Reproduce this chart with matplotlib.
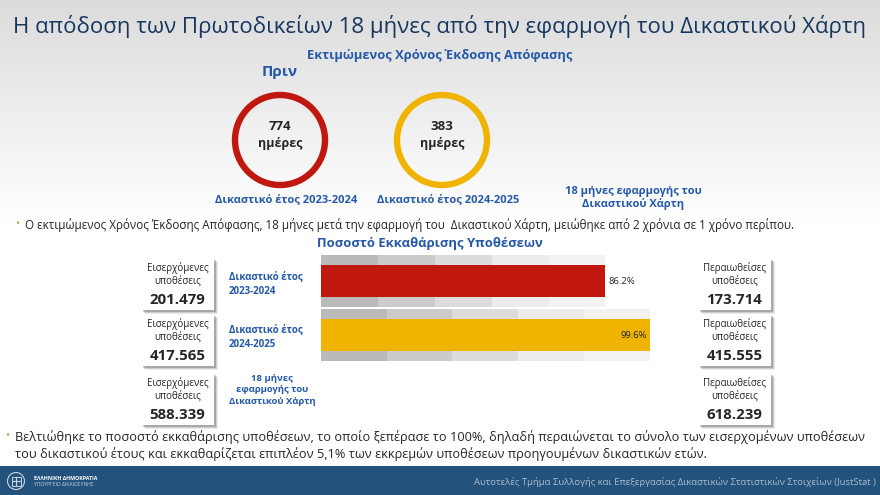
import numpy as np
import matplotlib.pyplot as plt
from matplotlib.patches import Circle, Rectangle
from matplotlib.colors import LinearSegmentedColormap

# --- data ---
years = ['Δικαστικό έτος 2023-2024', 'Δικαστικό έτος 2024-2025']
days = [774, 383]
ring_colors = ['#c0180f', '#f0b400']

bar_labels = ['Δικαστικό έτος\n2023-2024', 'Δικαστικό έτος\n2024-2025',
              '18 μήνες\nεφαρμογής του\nΔικαστικού Χάρτη']
clearance = [86.2, 99.6]
incoming = ['201.479', '417.565', '588.339']
resolved = ['173.714', '415.555', '618.239']

title = 'Η απόδοση των Πρωτοδικείων 18 μήνες από την εφαρμογή του Δικαστικού Χάρτη'
note1 = ('Ο εκτιμώμενος Χρόνος Έκδοσης Απόφασης, 18 μήνες μετά την εφαρμογή του  '
         'Δικαστικού Χάρτη, μειώθηκε από 2 χρόνια σε 1 χρόνο περίπου.')
note2 = ('Βελτιώθηκε το ποσοστό εκκαθάρισης υποθέσεων, το οποίο ξεπέρασε το 100%, '
         'δηλαδή περαιώνεται το σύνολο των εισερχομένων υποθέσεων')
note3 = ('του δικαστικού έτους και εκκαθαρίζεται επιπλέον 5,1% των εκκρεμών '
         'υποθέσεων προηγουμένων δικαστικών ετών.')
footer = 'Αυτοτελές Τμήμα Συλλογής και Επεξεργασίας Δικαστικών Στατιστικών Στοιχείων (JustStat )'

plt.rcParams['font.family'] = ['Open Sans', 'DejaVu Sans']

NAVY = '#17375e'
BLUE = '#2559a7'
DARK = '#262626'

fig = plt.figure(figsize=(8.8, 4.95), dpi=100)
bg = fig.add_axes([0, 0, 1, 1])
bg.set_xlim(0, 880)
bg.set_ylim(495, 0)
bg.axis('off')

# background gradient
grad = np.clip(np.linspace(0, 1, 495) / 0.45, 0, 1)[:, None]
bg.imshow(grad, extent=[0, 880, 495, 0], aspect='auto', zorder=0,
          cmap=LinearSegmentedColormap.from_list('g', ['#dcdcdc', '#ffffff']))

# title
bg.text(440, 27, title, ha='center', va='center', fontsize=16, color=NAVY)
bg.text(440, 55, 'Εκτιμώμενος Χρόνος Έκδοσης Απόφασης', ha='center', va='center',
        fontsize=9.3, color=BLUE, fontweight='bold')
bg.text(280, 72, 'Πριν', ha='center', va='center', fontsize=11, color=BLUE,
        fontweight='bold')

# rings
ring_x = [280, 442]
for cx, d, c, yr in zip(ring_x, days, ring_colors, years):
    bg.add_patch(Circle((cx, 140), 45, fill=False, ec=c, lw=4.6, zorder=3))
    bg.text(cx, 126, str(d), ha='center', va='center', fontsize=9.5,
            fontweight='bold', color=DARK)
    bg.text(cx, 144, 'ημέρες', ha='center', va='center', fontsize=9,
            fontweight='bold', color=DARK)
    bg.text(cx + 6, 200, yr, ha='center', va='center', fontsize=8,
            fontweight='bold', color=BLUE)
bg.text(633, 198, '18 μήνες εφαρμογής του\nΔικαστικού Χάρτη', ha='center',
        va='center', fontsize=8, fontweight='bold', color=BLUE, linespacing=1.2)

# bullet notes
bg.text(17, 225, '•', ha='center', va='center', fontsize=8, color='#c9a06a')
bg.text(25, 225, note1, ha='left', va='center', fontsize=8.4, color=DARK)
bg.text(7, 437, '•', ha='center', va='center', fontsize=8, color='#c9a06a')
bg.text(15, 437, note2, ha='left', va='center', fontsize=9.2, color=DARK)
bg.text(15, 454, note3, ha='left', va='center', fontsize=9.2, color=DARK)

bg.text(430, 244, 'Ποσοστό Εκκαθάρισης Υποθέσεων', ha='center', va='center',
        fontsize=9.4, fontweight='bold', color=BLUE)


def box(x0, y0, w, h, head, num):
    for k, a in zip([4, 3, 2], [0.08, 0.12, 0.18]):
        bg.add_patch(Rectangle((x0 + k, y0 + k), w, h, fc='#000000', alpha=a,
                               lw=0, zorder=2))
    bg.add_patch(Rectangle((x0, y0), w, h, fc='white', lw=0, zorder=3))
    bg.text(x0 + w / 2, y0 + 10, head, ha='center', va='center', fontsize=7,
            color=DARK, zorder=4)
    bg.text(x0 + w / 2, y0 + 23, 'υποθέσεις', ha='center', va='center',
            fontsize=7, color=DARK, zorder=4)
    bg.text(x0 + w / 2, y0 + 42, num, ha='center', va='center', fontsize=10.8,
            fontweight='bold', color=DARK, zorder=4)


box_y = [258, 314, 373]
for y0, n in zip(box_y, incoming):
    box(141, y0, 73, 52, 'Εισερχόμενες', n)
for y0, n in zip(box_y, resolved):
    box(698, y0, 73, 52, 'Περαιωθείσες', n)

bg.text(229, 284, bar_labels[0], ha='left', va='center', fontsize=7,
        fontweight='bold', color=BLUE, linespacing=1.45)
bg.text(229, 337, bar_labels[1], ha='left', va='center', fontsize=7,
        fontweight='bold', color=BLUE, linespacing=1.45)
bg.text(272, 390, bar_labels[2], ha='center', va='center', fontsize=6.8,
        fontweight='bold', color=BLUE, linespacing=1.3)

# clearance rate bars
ax = fig.add_axes([321 / 880, 1 - 362 / 495, 330 / 880, 108 / 495])
ax.set_xlim(0, 100)
ax.set_ylim(1.5, -0.5)
ax.axis('off')
shades = ['#bababa', '#cbcbcb', '#dcdcdc', '#ececec', '#f2f2f2']
ypos = np.arange(len(clearance))
for i, v in enumerate(clearance):
    left = 0
    for s in shades:
        ax.barh(i, v / 5, left=left, height=0.98, color=s, lw=0)
        left += v / 5
ax.barh(ypos, clearance, height=0.6, color=ring_colors, lw=0)
ax.text(clearance[0] + 0.8, 0, f'{clearance[0]}%', ha='left', va='center',
        fontsize=6.8, color=DARK)
ax.text(clearance[1] - 0.8, 1, f'{clearance[1]}%', ha='right', va='center',
        fontsize=6.8, color=DARK)

# footer
bg.add_patch(Rectangle((0, 466), 880, 29, fc='#23527c', lw=0, zorder=3))
bg.add_patch(Circle((16, 481), 8.5, fill=False, ec='#c8d4e0', lw=0.8, zorder=4))
bg.add_patch(Rectangle((11.5, 476.5), 9, 9, fill=False, ec='#c8d4e0', lw=0.7, zorder=4))
bg.plot([16, 16], [477, 485], color='#c8d4e0', lw=0.8, zorder=5)
bg.plot([12, 20], [481, 481], color='#c8d4e0', lw=0.8, zorder=5)
bg.text(34, 478, 'ΕΛΛΗΝΙΚΗ ΔΗΜΟΚΡΑΤΙΑ', ha='left', va='center', fontsize=3.8,
        fontweight='bold', color='white', zorder=5)
bg.text(34, 485, 'ΥΠΟΥΡΓΕΙΟ ΔΙΚΑΙΟΣΥΝΗΣ', ha='left', va='center', fontsize=3.6,
        color='#c8d4e0', zorder=5)
bg.text(876, 482, footer, ha='right', va='center', fontsize=6.8, color='#a9bdd0',
        zorder=5)

fig.savefig('out.png', dpi=100)
